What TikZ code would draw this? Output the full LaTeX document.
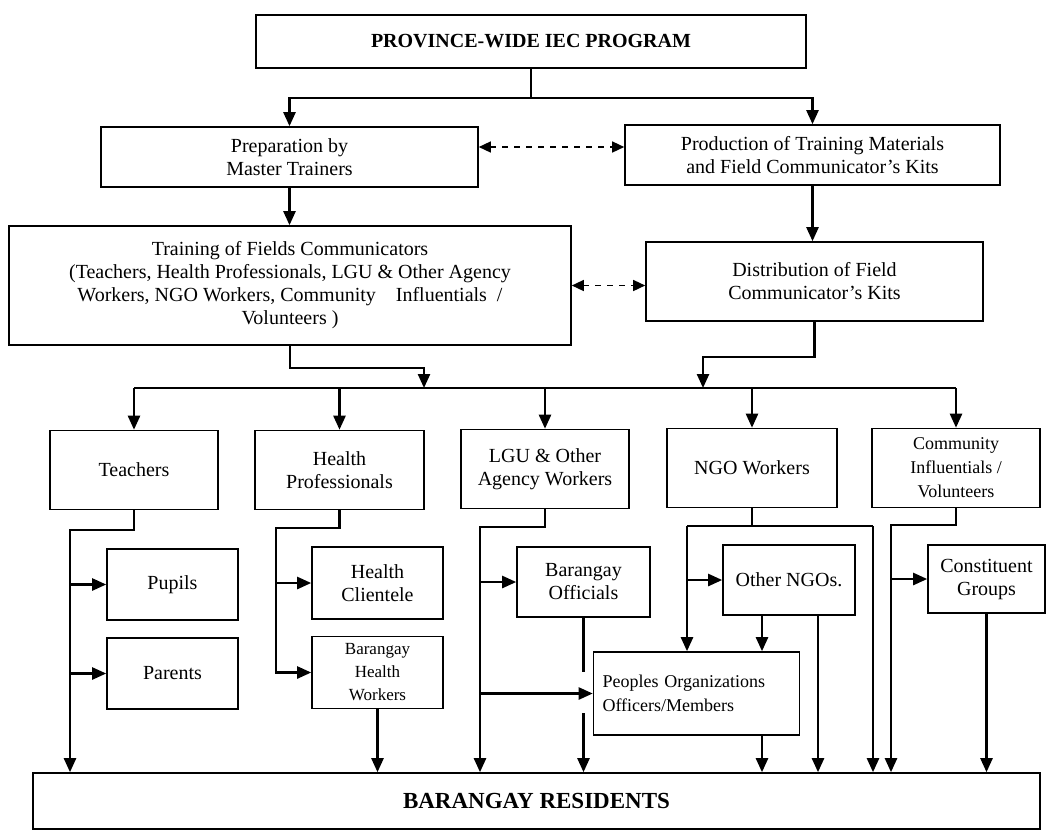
\documentclass[tikz,border=0pt]{standalone}
\usepackage{fontspec}
\setmainfont{Liberation Serif}
\usetikzlibrary{arrows.meta}

\begin{document}
\begin{tikzpicture}[
    x=0.5pt, y=-0.5pt,
    box/.style={rectangle, draw, line width=0.8pt, align=center, inner sep=2pt, font=\fontsize{10}{11.5}\selectfont},
    arrow/.style={-{Triangle[length=7pt, width=6pt]}, line width=1.2pt},
    conn/.style={line width=1.2pt},
    link/.style={{Triangle[length=6pt, width=5.5pt]}-{Triangle[length=6pt, width=5.5pt]}, dashed, line width=0.7pt}
]
\useasboundingbox (0,0) rectangle (1049,831);

% Program
\node[box, font=\bfseries\fontsize{10}{12}\selectfont, minimum width=275pt, minimum height=26.5pt] (prog) at (531,41.5) {PROVINCE-WIDE IEC PROGRAM};

% Preparation and production
\node[box, minimum width=188.5pt, minimum height=30pt] (prep) at (289.5,157) {Preparation by\\Master Trainers};
\node[box, minimum width=187.5pt, minimum height=30pt] (prod) at (812.5,155) {Production of Training Materials\\and Field Communicator's Kits};

% Training and distribution
\node[box, minimum width=281pt, minimum height=59.5pt] (train) at (290,285.5) {Training of Fields Communicators\\(Teachers, Health Professionals, LGU \& Other Agency\\Workers, NGO Workers, Community \ \ \ Influentials \ /\\Volunteers )};
\node[box, minimum width=168.5pt, minimum height=39.5pt] (dist) at (814.5,281.5) {Distribution of Field\\Communicator's Kits};

% Field communicators
\node[box, minimum width=84pt, minimum height=39.5pt] (teach) at (134,470) {Teachers};
\node[box, minimum width=84.5pt, minimum height=39.5pt] (hprof) at (339.5,470) {Health\\Professionals};
\node[box, minimum width=84pt, minimum height=39.5pt] (lgu) at (545,469) {LGU \& Other\\Agency Workers};
\node[box, minimum width=85pt, minimum height=39.5pt] (ngo) at (752,468) {NGO Workers};
\node[box, font=\fontsize{9}{12}\selectfont, minimum width=84pt, minimum height=39.5pt] (comm) at (956,468) {Community\\Influentials /\\Volunteers};

% Target groups
\node[box, minimum width=65.5pt, minimum height=35.5pt] (pupils) at (172.5,584.5) {Pupils};
\node[box, minimum width=65.5pt, minimum height=35.5pt] (parents) at (172.5,673.5) {Parents};
\node[box, minimum width=65.5pt, minimum height=36pt] (clien) at (377.5,583) {Health\\Clientele};
\node[box, font=\fontsize{8.5}{11.5}\selectfont, minimum width=65.5pt, minimum height=36pt] (bhw) at (377.5,672.5) {Barangay\\Health\\Workers};
\node[box, minimum width=66.5pt, minimum height=35pt] (boff) at (583.5,582) {Barangay\\Officials};
\node[box, minimum width=66pt, minimum height=35pt] (othngo) at (789,580) {Other NGOs.};
\node[box, minimum width=58.5pt, minimum height=34pt] (const) at (986.5,579) {Constituent\\Groups};
\node[box, font=\fontsize{9}{12}\selectfont, align=left, text width=94pt, inner sep=4.5pt, minimum height=41.5pt] (po) at (696.5,693.5) {Peoples Organizations\\Officers/Members};

% Residents
\node[box, font=\bfseries\fontsize{11.5}{13}\selectfont, minimum width=503.5pt, minimum height=28pt] (res) at (536.5,801) {BARANGAY RESIDENTS};

% Junctions
\coordinate (topbr) at (0,98);
\coordinate (trj) at (424,368);
\coordinate (dsj) at (703,357);
\coordinate (br) at (0,388);
\coordinate (tj) at (70,530);
\coordinate (hj) at (276,528);
\coordinate (lj) at (480,527);
\coordinate (nl) at (687,526);
\coordinate (nr) at (873,526);
\coordinate (cj) at (891,525);
\coordinate (oa) at (762,0);
\coordinate (ob) at (818,0);
\coordinate (gapt) at (0,672);
\coordinate (gapb) at (0,713);

% Upper arrows
\draw[conn] (prog.south) -- (prog.south |- topbr);
\draw[arrow] (prog.south |- topbr) -| (prep.north);
\draw[arrow] (prog.south |- topbr) -| (prod.north);
\draw[link] ([yshift=5pt]prep.east) -- ([yshift=5pt]prep.east -| prod.west);
\draw[arrow] (prep.south) -- (prep.south |- train.north);
\draw[arrow] (prod.south) -- (prod.south |- dist.north);
\draw[link] (train.east) -- (train.east -| dist.west);
\draw[arrow] (train.south) |- (trj) -- (trj |- br);
\draw[arrow] (dist.south) |- (dsj) -- (dsj |- br);

% Branch to field communicators
\draw[conn] (teach.north |- br) -- (comm.north |- br);
\foreach \n in {teach, hprof, lgu, ngo, comm}
    \draw[arrow] (\n.north |- br) -- (\n.north);

% Teachers
\draw[arrow] (teach.south) |- (tj) -- (tj |- res.north);
\draw[arrow] (tj |- pupils) -- (pupils.west);
\draw[arrow] (tj |- parents) -- (parents.west);

% Health professionals
\draw[arrow] (hprof.south) |- (hj) |- (bhw.west);
\draw[arrow] (hj |- clien) -- (clien.west);
\draw[arrow] (bhw.south) -- (bhw.south |- res.north);

% LGU
\draw[arrow] (lgu.south) |- (lj) -- (lj |- res.north);
\draw[arrow] (lj |- boff) -- (boff.west);
\draw[arrow] (lj |- po) -- (po.west);
\draw[conn] (boff.south) -- (boff.south |- gapt);
\draw[arrow] (boff.south |- gapb) -- (boff.south |- res.north);

% NGO
\draw[conn] (ngo.south) -- (ngo.south |- nl);
\draw[conn] (nl) -- (nr);
\draw[arrow] (nl) -- (nl |- po.north);
\draw[arrow] (nr) -- (nr |- res.north);
\draw[arrow] (nl |- othngo) -- (othngo.west);
\draw[arrow] (othngo.south -| oa) -- (po.north -| oa);
\draw[arrow] (othngo.south -| ob) -- (res.north -| ob);
\draw[arrow] (po.south -| oa) -- (res.north -| oa);

% Community
\draw[arrow] (comm.south) |- (cj) -- (cj |- res.north);
\draw[arrow] (cj |- const) -- (const.west);
\draw[arrow] (const.south) -- (const.south |- res.north);

\end{tikzpicture}
\end{document}
